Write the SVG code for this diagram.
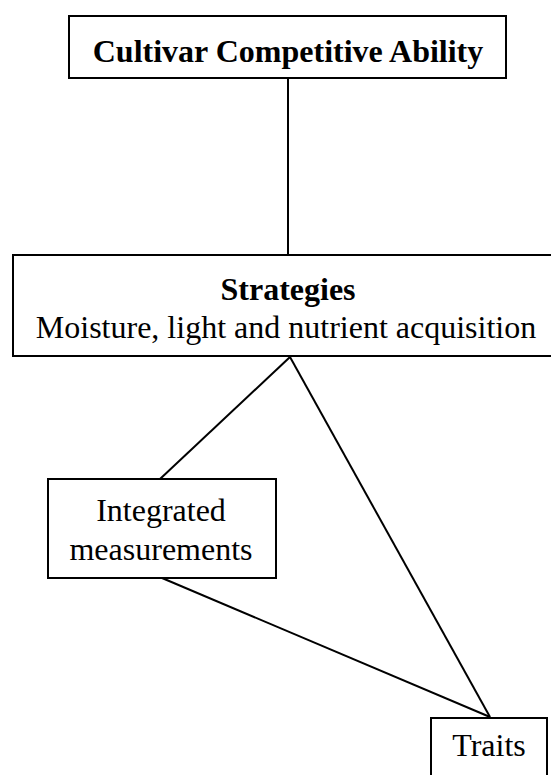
<svg xmlns="http://www.w3.org/2000/svg" width="551" height="775" viewBox="0 0 551 775">
<style>
.box{fill:#fff;stroke:#000;stroke-width:2}
.ln{stroke:#000;stroke-width:2;fill:none}
.t{font-family:"Liberation Serif","Times New Roman",serif;font-size:32px;fill:#000;text-anchor:middle}
.b{font-weight:bold}
</style>
<rect width="551" height="775" fill="#fff"/>
<g id="connectors">
<line class="ln" x1="288" y1="78" x2="288" y2="255"/>
<line class="ln" x1="290" y1="357" x2="160" y2="479"/>
<line class="ln" x1="290" y1="357" x2="490" y2="717"/>
<line class="ln" x1="162" y1="578" x2="490" y2="717"/>
</g>
<g id="node-cca">
<rect class="box" x="69" y="16" width="437" height="62"/>
<text class="t b" x="288" y="62">Cultivar Competitive Ability</text>
</g>
<g id="node-strategies">
<rect class="box" x="13" y="255" width="545" height="101"/>
<text class="t b" x="288" y="300">Strategies</text>
<text class="t" x="286" y="338">Moisture, light and nutrient acquisition</text>
</g>
<g id="node-integrated">
<rect class="box" x="48" y="479" width="228" height="99"/>
<text class="t" x="161" y="521">Integrated</text>
<text class="t" x="161" y="560">measurements</text>
</g>
<g id="node-traits">
<rect class="box" x="431" y="718" width="116" height="70"/>
<text class="t" x="489" y="756">Traits</text>
</g>
</svg>
